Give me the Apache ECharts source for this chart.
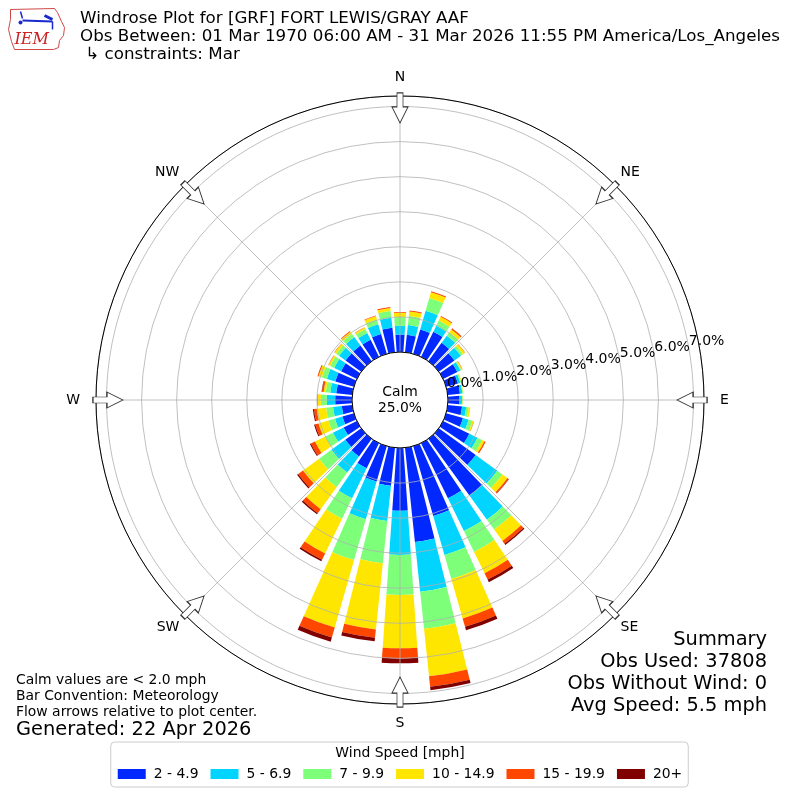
<!DOCTYPE html>
<html>
<head>
<meta charset="utf-8">
<script src="https://cdn.jsdelivr.net/npm/echarts@6/dist/echarts.min.js"></script>
<style>
html,body{margin:0;padding:0;background:#fff;}
#chart{width:800px;height:800px;}
</style>
</head>
<body>
<div id="chart"></div>
<script>
// Direction bins (degrees, meteorological convention, clockwise from North)
const directions = ['0','10','20','30','40','50','60','70','80','90','100','110','120','130','140','150','160','170',
  '180','190','200','210','220','230','240','250','260','270','280','290','300','310','320','330','340','350'];

// Frequency (%) per speed bin, per direction
const speed_2_49 = [0.50,0.50,0.72,0.80,0.65,0.55,0.45,0.35,0.35,0.33,0.41,0.50,0.83,1.30,2.00,1.75,2.07,2.70,
  1.79,1.09,1.05,0.80,0.62,0.56,0.42,0.34,0.30,0.48,0.46,0.55,0.50,0.55,0.55,0.54,0.59,0.70];
const speed_5_69 = [0.25,0.28,0.56,0.19,0.25,0.23,0.10,0.07,0.07,0.07,0.12,0.17,0.26,0.76,0.85,1.04,1.16,1.43,
  1.26,1.01,1.12,0.95,0.57,0.49,0.34,0.22,0.25,0.24,0.17,0.25,0.22,0.23,0.30,0.22,0.29,0.29];
const speed_7_99 = [0.25,0.26,0.38,0.16,0.12,0.07,0.03,0.03,0.02,0.02,0.07,0.11,0.15,0.18,0.35,0.66,0.71,1.06,
  1.14,1.21,1.21,0.65,0.51,0.43,0.24,0.20,0.20,0.17,0.13,0.15,0.13,0.10,0.12,0.12,0.14,0.19];
const speed_10_149 = [0.12,0.13,0.17,0.12,0.10,0.07,0.03,0.02,0.01,0.01,0.05,0.04,0.07,0.18,0.40,0.68,1.17,1.36,
  1.52,1.90,2.00,1.10,0.78,0.57,0.33,0.29,0.27,0.08,0.06,0.10,0.05,0.06,0.07,0.05,0.10,0.09];
const speed_15_199 = [0.02,0.03,0.03,0.03,0.04,0.01,0.01,0,0,0,0,0.01,0.04,0.04,0.10,0.20,0.25,0.30,
  0.29,0.24,0.30,0.20,0.14,0.17,0.13,0.10,0.08,0.02,0.05,0.03,0.01,0.01,0.02,0.01,0.02,0.03];
const speed_20p = [0,0,0,0,0,0,0,0,0,0,0,0,0,0.01,0.04,0.08,0.10,0.10,
  0.14,0.10,0.12,0.05,0.04,0.04,0.03,0.03,0.03,0,0.01,0,0,0,0,0,0,0];

const speedNames = ['2 - 4.9','5 - 6.9','7 - 9.9','10 - 14.9','15 - 19.9','20+'];
const speedColors = ['#0028ff','#00d4ff','#7dff7a','#ffe600','#ff4700','#800000'];
const speedData = [speed_2_49, speed_5_69, speed_7_99, speed_10_149, speed_15_199, speed_20p];

const compassAngles = [0,45,90,135,180,225,270,315];
const compassNames = {0:'N',45:'NE',90:'E',135:'SE',180:'S',225:'SW',270:'W',315:'NW'};
const radiusTicks = [1,2,3,4,5,6,7];
const radiusZeroTick = 0;
const radiusMax = 7.3;
const arrowRadius = 6.96;

const FONT = 'DejaVu Sans';
const chart = echarts.init(document.getElementById('chart'), null, {renderer:'canvas'});

const barSeries = speedNames.map((name, i) => ({
  name: name,
  type: 'bar',
  coordinateSystem: 'polar',
  polarIndex: 0,
  stack: 'wind',
  data: speedData[i],
  barCategoryGap: '20%',
  itemStyle: {color: speedColors[i]},
  z: 2,
  silent: true
}));

const arrowPath = 'path://M5,0 L11,0 L11,14 L16,14 L8,30 L0,14 L5,14 Z';

function compassLabel(v) {
  if (v === 360 || compassNames[v] === undefined) return '';
  if (v === 0 || v === 180) return '{ns|' + compassNames[v] + '}';
  if (v === 90 || v === 270) return '{ew|' + compassNames[v] + '}';
  return '{d|' + compassNames[v] + '}';
}

const radLabelBase = {show: true, align: 'left', verticalAlign: 'bottom', margin: 1, fontSize: 14,
  fontFamily: FONT, color: '#000'};

const option = {
  backgroundColor: '#ffffff',
  animation: false,
  textStyle: {fontFamily: FONT},
  polar: [
    {center: [400, 400], radius: [48, 304]},
    {center: [400, 400], radius: [48, 304]},
    {center: [400, 400], radius: [48, 304]},
    {center: [400, 400], radius: [48, 304]}
  ],
  angleAxis: [
    {polarIndex: 0, type: 'category', data: directions, startAngle: 95, clockwise: true,
      axisLine: {show: false}, axisTick: {show: false}, axisLabel: {show: false},
      splitLine: {show: false}, splitArea: {show: false}},
    {polarIndex: 1, type: 'value', min: 0, max: 360, interval: 45, startAngle: 90, clockwise: true, z: 4,
      axisLine: {show: true, lineStyle: {color: '#000', width: 1}},
      axisTick: {show: false},
      axisLabel: {show: true, margin: 8, fontSize: 14, fontFamily: FONT, color: '#000',
        formatter: compassLabel,
        rich: {
          ns: {fontSize: 14, fontFamily: FONT, color: '#000', padding: [4, 0, 4, 0]},
          ew: {fontSize: 14, fontFamily: FONT, color: '#000', padding: [0, 8, 0, 8]},
          d: {fontSize: 14, fontFamily: FONT, color: '#000'}
        }},
      splitLine: {show: true, lineStyle: {color: '#b0b0b0', width: 0.8}}},
    {polarIndex: 2, type: 'value', min: 0, max: 360, startAngle: 10, clockwise: true, show: false},
    {polarIndex: 3, type: 'value', min: 0, max: 360, startAngle: 10, clockwise: true, show: false}
  ],
  radiusAxis: [
    {polarIndex: 0, min: 0, max: radiusMax, show: false},
    {polarIndex: 1, min: 0, max: radiusMax, show: false},
    {polarIndex: 2, min: 0, max: radiusMax, interval: 1, z: 3,
      axisLine: {show: false}, axisTick: {show: false},
      splitLine: {show: true, lineStyle: {color: '#b0b0b0', width: 0.8}},
      axisLabel: Object.assign({}, radLabelBase, {
        formatter: v => radiusTicks.indexOf(v) >= 0 ? v.toFixed(1) + '%' : ''})},
    {polarIndex: 3, min: 0, max: radiusMax, interval: 1, z: 3,
      axisLine: {show: false}, axisTick: {show: false}, splitLine: {show: false},
      axisLabel: Object.assign({}, radLabelBase, {showMinLabel: true,
        formatter: v => v === radiusZeroTick ? v.toFixed(1) + '%' : ''})}
  ],
  legend: {
    data: speedNames,
    left: 'center',
    top: 742,
    orient: 'horizontal',
    icon: 'rect',
    itemWidth: 28,
    itemHeight: 10,
    itemGap: 12,
    padding: [25, 6, 6, 7],
    borderColor: '#cccccc',
    borderWidth: 1,
    borderRadius: 4,
    backgroundColor: '#fff',
    selectedMode: false,
    textStyle: {fontSize: 13.9, fontFamily: FONT, color: '#000', padding: [0, 0, 0, 3]}
  },
  series: barSeries.concat([{
    type: 'scatter',
    coordinateSystem: 'polar',
    polarIndex: 1,
    symbol: arrowPath,
    symbolSize: [16, 30],
    z: 10,
    silent: true,
    itemStyle: {color: '#ffffff', borderColor: '#333333', borderWidth: 1, opacity: 1},
    data: compassAngles.map(a => ({value: [arrowRadius, a], symbolRotate: -a}))
  }]),
  graphic: [
    // IEM logo (approximation)
    {type: 'group', left: 8, top: 8, children: [
      {type: 'polyline', shape: {points: [[2,2],[46,1],[49,5],[53,14],[56,20],[55,28],[51,33],[50,40],[45,42],[6,42],[3,34],[0,22],[2,12],[2,2]]},
        style: {stroke: '#d04848', fill: '#fff', lineWidth: 1}},
      {type: 'line', shape: {x1: 14, y1: 13, x2: 44, y2: 14}, style: {stroke: '#1a2acc', lineWidth: 2}},
      {type: 'line', shape: {x1: 12, y1: 4, x2: 14, y2: 11}, style: {stroke: '#1a2acc', lineWidth: 1.5}},
      {type: 'line', shape: {x1: 36, y1: 8, x2: 44, y2: 12}, style: {stroke: '#1a2acc', lineWidth: 3}},
      {type: 'line', shape: {x1: 44, y1: 14, x2: 44, y2: 22}, style: {stroke: '#1a2acc', lineWidth: 1.5}},
      {type: 'circle', shape: {cx: 12, cy: 15, r: 2}, style: {fill: '#1a2acc'}},
      {type: 'text', style: {text: 'IEM', x: 6, y: 32, font: 'italic 16px "DejaVu Serif"', fill: '#cc2222', textVerticalAlign: 'middle'}}
    ]},
    // Titles
    {type: 'text', style: {text: 'Windrose Plot for [GRF] FORT LEWIS/GRAY AAF', x: 80, y: 19, font: '16.7px "DejaVu Sans"', fill: '#000', textVerticalAlign: 'middle'}},
    {type: 'text', style: {text: 'Obs Between: 01 Mar 1970 06:00 AM - 31 Mar 2026 11:55 PM America/Los_Angeles', x: 80, y: 37, font: '16.7px "DejaVu Sans"', fill: '#000', textVerticalAlign: 'middle'}},
    {type: 'text', style: {text: ' \u21b3 constraints: Mar', x: 80, y: 55, font: '16.7px "DejaVu Sans"', fill: '#000', textVerticalAlign: 'middle'}},
    // Calm
    {type: 'text', z: 20, style: {text: 'Calm', x: 400, y: 392, font: '13.9px "DejaVu Sans"', fill: '#000', textAlign: 'center', textVerticalAlign: 'middle'}},
    {type: 'text', z: 20, style: {text: '25.0%', x: 400, y: 408, font: '13.9px "DejaVu Sans"', fill: '#000', textAlign: 'center', textVerticalAlign: 'middle'}},
    // Bottom-left notes
    {type: 'text', style: {text: 'Calm values are < 2.0 mph', x: 16, y: 680, font: '13.9px "DejaVu Sans"', fill: '#000', textVerticalAlign: 'middle'}},
    {type: 'text', style: {text: 'Bar Convention: Meteorology', x: 16, y: 696, font: '13.9px "DejaVu Sans"', fill: '#000', textVerticalAlign: 'middle'}},
    {type: 'text', style: {text: 'Flow arrows relative to plot center.', x: 16, y: 712, font: '13.9px "DejaVu Sans"', fill: '#000', textVerticalAlign: 'middle'}},
    {type: 'text', style: {text: 'Generated: 22 Apr 2026', x: 16, y: 730, font: '19.4px "DejaVu Sans"', fill: '#000', textVerticalAlign: 'middle'}},
    // Summary
    {type: 'text', style: {text: 'Summary', x: 767, y: 640, font: '19.4px "DejaVu Sans"', fill: '#000', textAlign: 'right', textVerticalAlign: 'middle'}},
    {type: 'text', style: {text: 'Obs Used: 37808', x: 767, y: 662, font: '19.4px "DejaVu Sans"', fill: '#000', textAlign: 'right', textVerticalAlign: 'middle'}},
    {type: 'text', style: {text: 'Obs Without Wind: 0', x: 767, y: 684, font: '19.4px "DejaVu Sans"', fill: '#000', textAlign: 'right', textVerticalAlign: 'middle'}},
    {type: 'text', style: {text: 'Avg Speed: 5.5 mph', x: 767, y: 706, font: '19.4px "DejaVu Sans"', fill: '#000', textAlign: 'right', textVerticalAlign: 'middle'}},
    // Legend title
    {type: 'text', z: 100, style: {text: 'Wind Speed [mph]', x: 400, y: 753, font: '13.9px "DejaVu Sans"', fill: '#000', textAlign: 'center', textVerticalAlign: 'middle'}}
  ]
};
chart.setOption(option);
</script>
</body>
</html>
